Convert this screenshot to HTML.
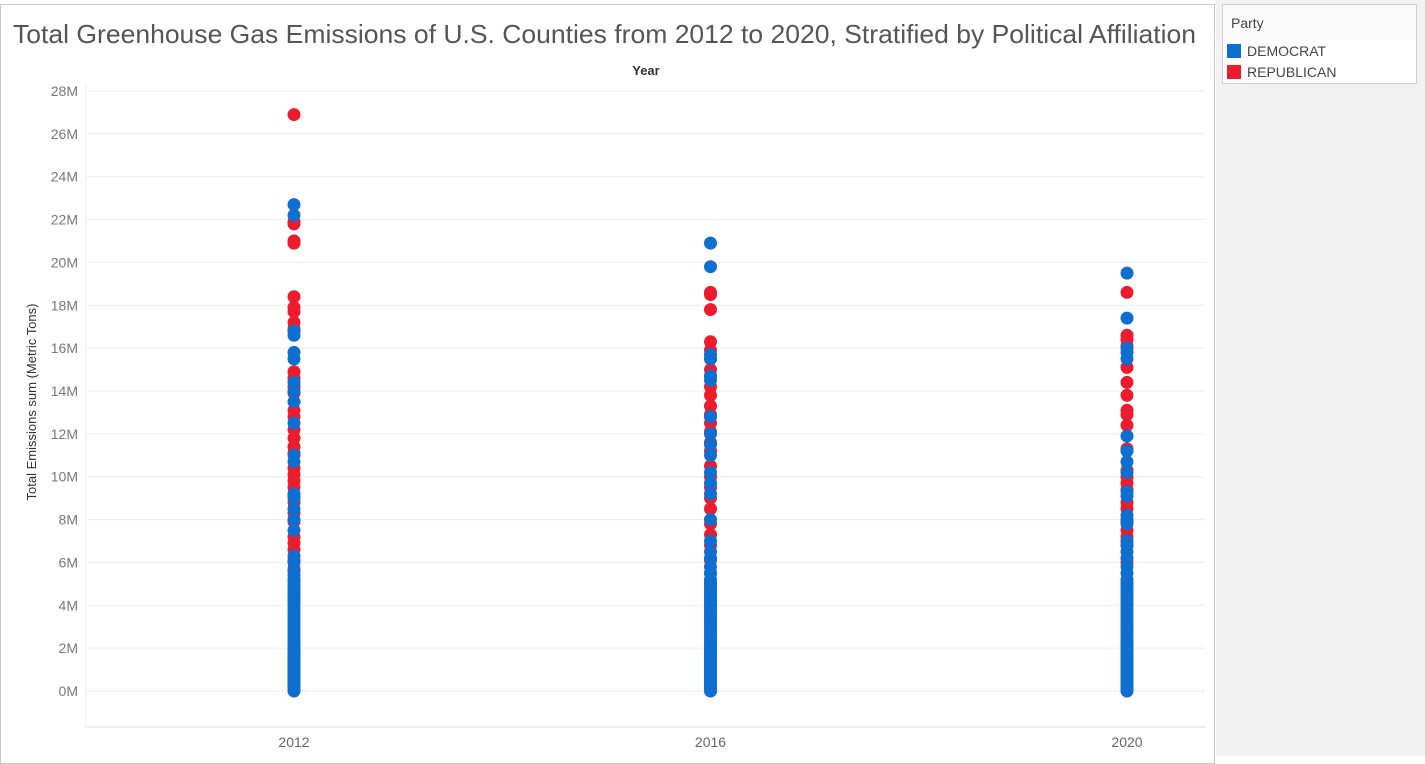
<!DOCTYPE html>
<html><head><meta charset="utf-8"><style>
body{margin:0;width:1425px;height:756px;background:#fff;font-family:"Liberation Sans",sans-serif;overflow:hidden;position:relative}
</style></head><body>
<div style="position:absolute;left:1216px;top:0;width:209px;height:756px;background:#f2f2f2"></div>
<div style="position:absolute;left:0;top:4px;width:1215px;height:760px;border:1px solid #c8c8c8;box-sizing:border-box"></div>
<div style="position:absolute;left:1222px;top:4px;width:193px;height:78px;border:1px solid #d0d0d0;background:#fff">
 <div style="background:#fafafa;height:35px;line-height:36px;padding-left:8px;font-size:14px;color:#444">Party</div>
 <div style="height:21px;font-size:14px;color:#444;display:flex;align-items:center"><span style="display:inline-block;width:14px;height:14px;background:#0f6fd0;margin:0 6px 0 4px"></span>DEMOCRAT</div>
 <div style="height:21px;font-size:14px;color:#444;display:flex;align-items:center"><span style="display:inline-block;width:14px;height:14px;background:#ec1c2e;margin:0 6px 0 4px"></span>REPUBLICAN</div>
</div>
<svg id="chart" width="1214" height="756" style="position:absolute;left:0;top:0">
 <text x="13" y="43" textLength="1183" lengthAdjust="spacingAndGlyphs" font-size="26" fill="#555">Total Greenhouse Gas Emissions of U.S. Counties from 2012 to 2020, Stratified by Political Affiliation</text>
 <text x="646" y="75" text-anchor="middle" font-size="13" font-weight="bold" fill="#333">Year</text>
 <text transform="translate(36,402) rotate(-90)" text-anchor="middle" font-size="13" fill="#333">Total Emissions sum (Metric Tons)</text>
 <g id="grid"></g><g id="marks"></g>
</svg>
<script>
const years=["2012","2016","2020"];
const yTicks=[0,2,4,6,8,10,12,14,16,18,20,22,24,26,28];
const denseBlue=[0,0.1,0.2,0.3,0.4,0.5,0.6,0.7,0.8,0.9,1.0,1.1,1.2,1.3,1.4,1.5,1.6,1.7,1.8,1.9,2.0,2.1,2.2,2.35,2.5,2.65,2.8,2.95,3.1,3.25,3.4,3.55,3.7,3.85,4.0,4.15,4.3,4.45,4.6,4.75,4.9,5.05,5.2];
const blue2012=[22.7,22.2,16.8,16.6,15.8,15.5,14.4,14.0,13.5,12.5,11.0,10.7,9.2,9.0,8.5,8.0,7.5,6.3,6.0,5.6,5.4];
const red2012=[26.9,21.9,21.8,21.0,20.9,18.4,17.9,17.7,17.2,16.9,14.9,14.6,14.2,13.9,13.1,12.8,12.2,11.8,11.4,11.1,10.4,10.1,9.8,9.5,9.1,8.8,8.3,7.9,7.2,6.9,6.6,6.1,5.7,5.2,4.6,4.2];
const blue2016=[20.9,19.8,15.7,15.5,14.7,14.5,12.8,12.0,11.5,11.0,10.2,9.7,9.2,8.0,7.0,6.5,6.2,5.8,5.5];
const red2016=[18.6,18.5,17.8,16.3,15.9,15.5,15.0,14.7,14.2,13.8,13.3,12.9,12.5,12.1,11.6,11.2,10.5,10.0,9.5,9.0,8.5,7.8,7.3,6.8,6.1,5.5,5.0,4.5,4.0,3.4];
const blue2020=[19.5,17.4,16.0,15.8,15.5,11.9,11.2,10.7,10.2,9.3,9.1,8.2,8.0,7.8,7.0,6.8,6.5,6.2,5.8,5.5];
const red2020=[18.6,16.6,16.4,16.1,15.1,14.4,13.8,13.1,12.9,12.4,11.3,10.3,10.0,9.7,9.4,8.8,8.5,7.9,7.5,7.2,6.8,6.0];
const reds=[red2012,red2016,red2020], blues=[blue2012,blue2016,blue2020];
const NS="http://www.w3.org/2000/svg";
const y=v=>691-v*600/28;
const x=i=>294+i*416.5;
const grid=document.getElementById('grid'), marks=document.getElementById('marks');
function mk(tag,attrs,parent){const e=document.createElementNS(NS,tag);for(const k in attrs)e.setAttribute(k,attrs[k]);parent.appendChild(e);return e;}
yTicks.forEach(t=>{
 const l=mk('line',{x1:86,x2:1205,y1:y(t),y2:y(t),stroke:t===0?'#bbb':'#ececec','stroke-dasharray':t===0?'1,3':''},grid);
 
 
 const tx=mk('text',{x:78,y:y(t)+5,'text-anchor':'end','font-size':14,fill:'#777'},grid);
 tx.textContent=t+'M';
 
 
});
const ax=mk('line',{x1:86,x2:1205,y1:727,y2:727,stroke:'#ddd'},grid);


const yl=mk('line',{x1:86,x2:86,y1:84,y2:727,stroke:'#eee'},grid);


years.forEach((yr,i)=>{
 const t=mk('text',{x:x(i),y:747,'text-anchor':'middle','font-size':14,fill:'#666'},grid);
 t.textContent=yr;
 
 
 reds[i].forEach(v=>{
  const c=mk('circle',{cx:x(i),cy:y(v),r:6.5,fill:'#ec1c2e'},marks);
  
  
 });
 blues[i].concat(denseBlue).forEach(v=>{
  const c=mk('circle',{cx:x(i),cy:y(v),r:6.5,fill:'#0f6fd0'},marks);
  
  
 });
});
</script>
</body></html>
